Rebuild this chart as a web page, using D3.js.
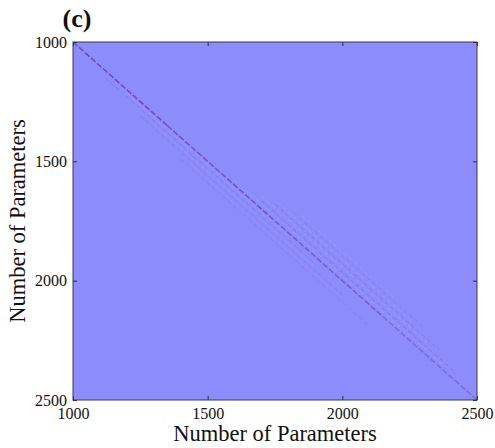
<!DOCTYPE html>
<html>
<head>
<meta charset="utf-8">
<script src="https://cdn.jsdelivr.net/npm/d3@7"></script>
<style>
  html, body { margin: 0; padding: 0; background: #ffffff; }
  svg { display: block; }
</style>
</head>
<body>
<svg id="chart" width="495" height="448"></svg>
<script>
// ---- Data ----
const axisDomain = [1000, 2500];
const tickValues = [1000, 1500, 2000, 2500];
const panelLabel = "(c)";
const xTitle = "Number of Parameters";
const yTitle = "Number of Parameters";

// Diagonal bands of the matrix: offset = row - column (parameters),
// start/end = column range, value = matrix value (normalised, 0 = background)
const bandOffset = [0, 0, 0, 0, 30, 60, 90, -35, -70, -105, 15, 45, 75, -20, -55, -88, -122];
const bandStart  = [1000, 1350, 1750, 2150, 1120, 1250, 1400, 1700, 1750, 1820, 1200, 1300, 1450, 1600, 1700, 1760, 1850];
const bandEnd    = [1350, 1750, 2150, 2500, 1900, 2000, 2100, 2420, 2360, 2300, 1800, 1900, 2000, 2380, 2320, 2260, 2200];
const bandValue  = [-1.0, -0.85, -0.7, -0.5, -0.4, -0.3, -0.22, -0.45, -0.4, -0.3, 0.45, 0.38, 0.3, 0.5, 0.5, 0.45, 0.4];

// ---- Layout ----
const svg = d3.select("#chart");
const mLeft = 73, mRight = 477, mTop = 42, mBottom = 400;

const x = d3.scaleLinear().domain(axisDomain).range([mLeft, mRight]);
const y = d3.scaleLinear().domain(axisDomain).range([mTop, mBottom]);
const color = d3.scaleLinear().domain([-1, 0, 1]).range(["#6e4ab8", "#8c8cfa", "#c4c4ff"]);

svg.append("defs").append("clipPath").attr("id", "clip")
  .append("rect").attr("x", mLeft).attr("y", mTop).attr("width", mRight - mLeft).attr("height", mBottom - mTop);

// background = zero-valued matrix
svg.append("rect")
  .attr("x", x(axisDomain[0])).attr("y", y(axisDomain[0]))
  .attr("width", x(axisDomain[1]) - x(axisDomain[0]))
  .attr("height", y(axisDomain[1]) - y(axisDomain[0]))
  .attr("fill", color(0));

const bands = bandOffset.map((o, i) => ({ offset: o, start: bandStart[i], end: bandEnd[i], value: bandValue[i] }));

svg.append("g").attr("clip-path", "url(#clip)")
  .selectAll("line").data(bands).enter().append("line")
  .attr("x1", d => x(d.start))
  .attr("y1", d => y(d.start + d.offset))
  .attr("x2", d => x(d.end))
  .attr("y2", d => y(d.end + d.offset))
  .attr("stroke", d => color(d.value))
  .attr("stroke-width", d => d.offset === 0 ? 1.5 : 1)
  .attr("stroke-dasharray", d => d.offset === 0 ? "6,2" : "4,3")
  .attr("opacity", d => d.offset === 0 ? 1 : 0.7);

// ---- Axes ----
const font = "'Liberation Serif', 'Times New Roman', serif";
function styleAxis(g) {
  g.select(".domain").remove();
  g.selectAll(".tick line").attr("stroke", "#2a2a5a").attr("stroke-width", 1);
  g.selectAll(".tick text").attr("font-family", font).attr("font-size", 16).attr("fill", "#111");
}

svg.append("g").attr("transform", `translate(0,${mBottom})`)
  .call(d3.axisBottom(x).tickValues(tickValues).tickFormat(d3.format("d")).tickSizeInner(-4).tickSizeOuter(0).tickPadding(8))
  .call(styleAxis);
svg.append("g").attr("transform", `translate(${mLeft},0)`)
  .call(d3.axisLeft(y).tickValues(tickValues).tickFormat(d3.format("d")).tickSizeInner(-4).tickSizeOuter(0).tickPadding(6))
  .call(styleAxis);
svg.append("g").attr("transform", `translate(0,${mTop})`)
  .call(d3.axisTop(x).tickValues(tickValues).tickFormat("").tickSizeInner(-4).tickSizeOuter(0))
  .call(styleAxis);
svg.append("g").attr("transform", `translate(${mRight},0)`)
  .call(d3.axisRight(y).tickValues(tickValues).tickFormat("").tickSizeInner(-4).tickSizeOuter(0))
  .call(styleAxis);

// frame
svg.append("rect")
  .attr("x", mLeft).attr("y", mTop).attr("width", mRight - mLeft).attr("height", mBottom - mTop)
  .attr("fill", "none").attr("stroke", "#3a3a4a").attr("stroke-width", 1);

// ---- Titles ----
svg.append("text").attr("x", (mLeft + mRight) / 2).attr("y", 441)
  .attr("text-anchor", "middle").attr("font-family", font).attr("font-size", 22.5).attr("fill", "#111")
  .text(xTitle);
svg.append("text").attr("transform", `translate(25,${(mTop + mBottom) / 2}) rotate(-90)`)
  .attr("text-anchor", "middle").attr("font-family", font).attr("font-size", 22.5).attr("fill", "#111")
  .text(yTitle);
svg.append("text").attr("x", 77).attr("y", 27)
  .attr("text-anchor", "middle").attr("font-family", font).attr("font-size", 26).attr("font-weight", "bold").attr("fill", "#111")
  .text(panelLabel);
</script>
</body>
</html>
